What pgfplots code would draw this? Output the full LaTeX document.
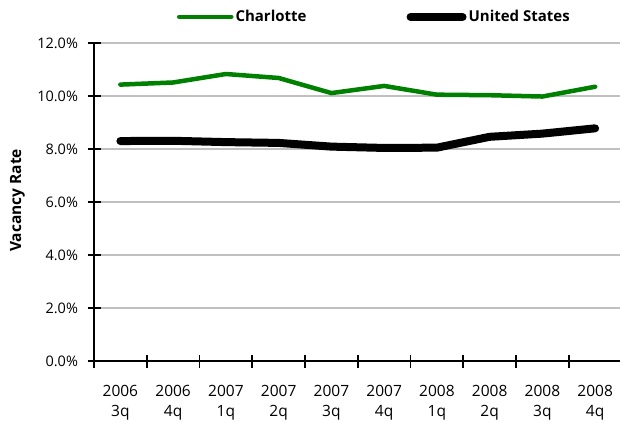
\documentclass[border=0pt]{standalone}
\usepackage{fontspec}
\setmainfont{Open Sans}
\usepackage{pgfplots}
\pgfplotsset{compat=1.18}
\definecolor{cgreen}{RGB}{0,128,0}
\definecolor{cgrid}{RGB}{192,192,192}
\begin{document}
\begin{tikzpicture}[x=1pt,y=1pt]
\path[use as bounding box] (0,0) rectangle (620,421);
\begin{axis}[
  at={(94pt,60pt)}, anchor=south west, scale only axis,
  width=527.5pt, height=318pt,
  xmin=-0.5, xmax=9.5, ymin=0, ymax=12,
  axis lines*=left,
  axis line style={line width=2pt, black},
  every tick/.style={black, line width=1.6pt},
  tick align=center,
  major tick length=13pt,
  ytick={0,2,...,12},
  ymajorgrids,
  grid style={cgrid, line width=1.6pt},
  xtick={0,...,9},
  xticklabels={{2006\\3q},{2006\\4q},{2007\\1q},{2007\\2q},{2007\\3q},{2007\\4q},{2008\\1q},{2008\\2q},{2008\\3q},{2008\\4q}},
  x tick style={draw=none},
  extra x ticks={-0.5,0.5,...,8.5},
  extra x tick labels={},
  extra x tick style={x tick style={draw=black, line width=1.6pt}, major tick length=13pt},
  xticklabel style={align=center, font=\fontsize{15.5}{20.5}\selectfont, yshift=-14pt},
  yticklabel={\pgfmathprintnumber[fixed,fixed zerofill,precision=1]{\tick}\%},
  yticklabel style={font=\fontsize{14.5}{16}\selectfont, xshift=-6pt},
  /pgf/number format/assume math mode=true,
  ylabel={Vacancy Rate},
  every axis y label/.style={at={(axis description cs:-0.145,0.505)}, rotate=90, anchor=center, font=\bfseries\fontsize{15.5}{17}\selectfont},
  legend columns=2,
  legend style={draw=none, fill=none, at={(axis description cs:0.157,1.082)}, anchor=west, inner sep=0pt,
    font=\bfseries\fontsize{15}{16}\selectfont,
    /tikz/every even column/.append style={column sep=98pt}},
  legend image code/.code={\draw[#1] (0pt,0pt) -- (52pt,0pt);},
  clip=false,
]
\addplot[cgreen, line width=4.5pt, line cap=round, line join=round] coordinates {
  (0,10.43) (1,10.51) (2,10.83) (3,10.68) (4,10.11) (5,10.38) (6,10.05) (7,10.03) (8,9.98) (9,10.35)};
\addlegendentry{Charlotte}
\addplot[black, line width=8pt, line cap=round, line join=round] coordinates {
  (0,8.30) (1,8.31) (2,8.26) (3,8.23) (4,8.09) (5,8.04) (6,8.05) (7,8.46) (8,8.58) (9,8.78)};
\addlegendentry{United States}
\end{axis}
\end{tikzpicture}
\end{document}
